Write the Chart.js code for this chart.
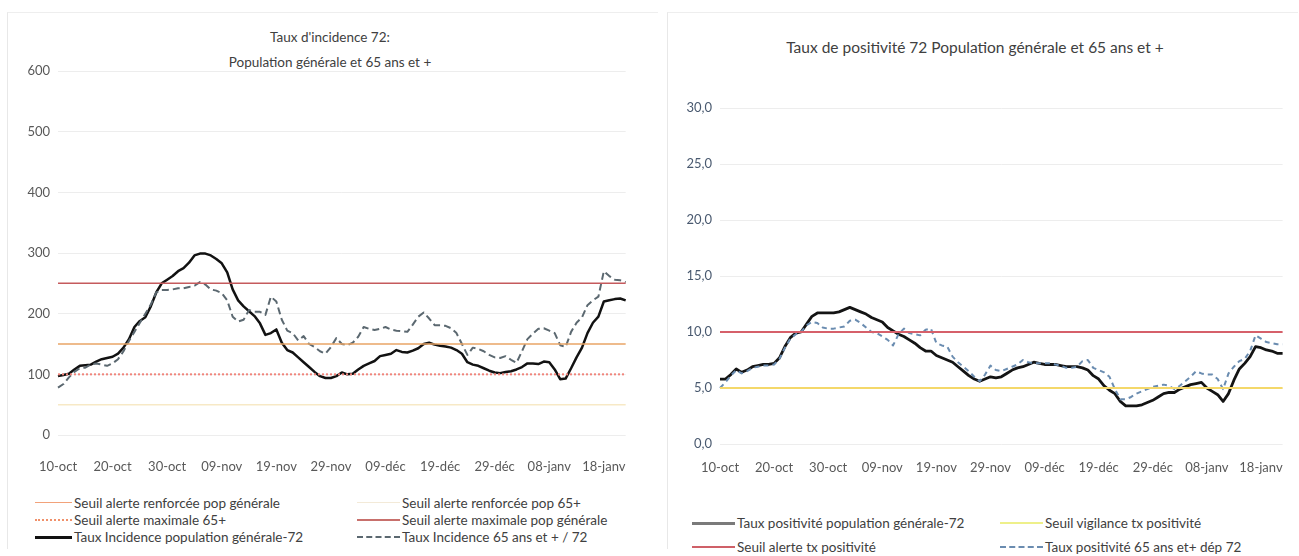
<!DOCTYPE html>
<html lang="fr">
<head>
<meta charset="UTF-8">
<title>Taux d'incidence et taux de positivité 72</title>
<script src="https://cdn.jsdelivr.net/npm/chart.js"></script>
<style>
  body { margin: 0; width: 1299px; height: 556px; background: #fff; position: relative; overflow: hidden;
         font-family: Lato, "Open Sans", sans-serif; color: #404040; }
  .panel { position: absolute; top: 12px; height: 536px; border-left: 1px solid #e8e8e8; border-top: 1px solid #eeeeee; }
  .title { position: absolute; text-align: center; color: #404040; }
  canvas { position: absolute; top: 0; }
  .item { position: absolute; white-space: nowrap; font-size: 13.5px; line-height: 14px; color: #404040; }
  .swatch { position: absolute; top: 7px; height: 0; }
</style>
</head>
<body>
  <div class="panel" style="left:7px; width:650px;"></div>
  <div class="panel" style="left:667px; width:630px;"></div>

  <div class="title" style="left:0; width:660px; top:25px; font-size:13.5px; line-height:25px;">
    Taux d'incidence 72:<br>Population générale et 65 ans et +
  </div>
  <div class="title" style="left:660px; width:630px; top:37px; font-size:15.5px; line-height:20px;">
    Taux de positivité 72 Population générale et 65 ans et +
  </div>

  <canvas id="incidence" width="650" height="485" style="left:0;"></canvas>
  <canvas id="positivite" width="639" height="485" style="left:660px;"></canvas>

  <div id="legends"></div>

  <script>
    // jours affichés (10-oct -> 22-janv)
    const dates = [
      '10-oct','11-oct','12-oct','13-oct','14-oct','15-oct','16-oct','17-oct','18-oct','19-oct',
      '20-oct','21-oct','22-oct','23-oct','24-oct','25-oct','26-oct','27-oct','28-oct','29-oct',
      '30-oct','31-oct','01-nov','02-nov','03-nov','04-nov','05-nov','06-nov','07-nov','08-nov',
      '09-nov','10-nov','11-nov','12-nov','13-nov','14-nov','15-nov','16-nov','17-nov','18-nov',
      '19-nov','20-nov','21-nov','22-nov','23-nov','24-nov','25-nov','26-nov','27-nov','28-nov',
      '29-nov','30-nov','01-déc','02-déc','03-déc','04-déc','05-déc','06-déc','07-déc','08-déc',
      '09-déc','10-déc','11-déc','12-déc','13-déc','14-déc','15-déc','16-déc','17-déc','18-déc',
      '19-déc','20-déc','21-déc','22-déc','23-déc','24-déc','25-déc','26-déc','27-déc','28-déc',
      '29-déc','30-déc','31-déc','01-janv','02-janv','03-janv','04-janv','05-janv','06-janv','07-janv',
      '08-janv','09-janv','10-janv','11-janv','12-janv','13-janv','14-janv','15-janv','16-janv','17-janv',
      '18-janv','19-janv','20-janv','21-janv','22-janv'
    ];
    const tickLabels = ['10-oct','20-oct','30-oct','09-nov','19-nov','29-nov','09-déc','19-déc','29-déc','08-janv','18-janv'];

    // taux d'incidence
    const incidencePop = [
      97,99,101,108,114,115,116,121,125,127,
      129,134,144,158,178,188,194,212,235,250,
      256,262,270,275,284,296,299,299,296,290,
      283,268,240,222,212,204,196,184,165,168,
      174,152,140,136,128,120,112,104,97,94,
      94,97,103,100,101,108,114,118,122,130,
      132,134,140,137,136,139,143,150,152,149,
      147,146,144,140,134,120,116,114,110,106,
      103,102,104,105,108,112,118,118,117,121,
      120,108,92,93,110,128,144,168,185,195,
      220,222,224,225,222
    ];
    const incidence65 = [
      78,84,95,104,110,111,116,118,116,114,
      118,125,138,155,170,185,200,215,235,239,
      239,240,242,242,244,246,252,248,240,238,
      234,222,195,187,190,206,203,203,198,228,
      220,190,172,168,156,163,150,145,138,134,
      145,160,150,148,152,162,178,175,173,175,
      178,174,172,171,170,182,195,202,192,181,
      181,180,176,168,150,132,144,142,138,132,
      128,127,130,124,119,138,158,167,175,176,
      172,168,148,145,170,185,194,214,222,228,
      270,262,256,255,252
    ];
    const incidenceTicks = [0, 100, 200, 300, 400, 500, 600];
    // seuils : renforcée pop générale, renforcée 65+, maximale 65+, maximale pop générale
    const seuilsIncidence = [150, 50, 100, 250];

    // taux de positivité
    const positivitePop = [
      5.8,5.8,6.2,6.7,6.4,6.6,6.9,7.0,7.1,7.1,
      7.2,7.7,8.7,9.5,9.9,10.0,10.7,11.4,11.7,11.7,
      11.7,11.7,11.8,12.0,12.2,12.0,11.8,11.6,11.3,11.1,
      10.9,10.4,10.1,9.8,9.6,9.3,9.0,8.6,8.3,8.3,
      7.9,7.7,7.5,7.3,6.9,6.5,6.1,5.8,5.6,5.8,
      6.0,5.9,6.0,6.3,6.6,6.8,6.9,7.1,7.3,7.2,
      7.1,7.1,7.1,7.0,6.9,6.9,6.9,6.8,6.6,6.1,
      5.8,5.2,4.8,4.5,3.8,3.4,3.4,3.4,3.5,3.7,
      3.9,4.2,4.5,4.6,4.6,4.9,5.1,5.3,5.4,5.5,
      5.0,4.7,4.4,3.8,4.5,5.7,6.7,7.2,7.8,8.7,
      8.6,8.4,8.3,8.1,8.1
    ];
    const positivite65 = [
      5.0,5.5,6.1,6.6,6.3,6.5,6.8,6.9,7.0,7.0,
      7.1,7.6,8.6,9.4,9.8,10.0,10.6,10.9,10.8,10.4,
      10.3,10.3,10.4,10.5,11.0,11.1,10.8,10.4,10.0,9.9,
      9.6,9.3,8.8,9.8,10.3,9.9,9.8,9.7,10.2,10.3,
      9.0,8.8,8.7,7.8,7.3,6.9,6.5,6.0,5.6,6.2,
      7.0,6.6,6.5,6.7,6.9,7.1,7.5,7.3,7.2,7.2,
      7.2,7.2,7.1,7.0,6.8,6.8,6.9,7.4,7.5,6.8,
      6.6,6.4,6.0,4.9,4.0,4.0,4.2,4.5,4.7,4.9,
      5.1,5.2,5.3,5.2,4.9,5.2,5.6,6.0,6.5,6.3,
      6.2,6.2,5.8,4.9,6.3,6.9,7.4,7.6,8.3,9.7,
      9.4,9.1,9.0,8.9,8.9
    ];
    const positiviteTicks = [0, 5, 10, 15, 20, 25, 30];
    // seuils : vigilance, alerte
    const seuilsPositivite = [5, 10];

    const FONT = 'Lato, "Open Sans", sans-serif';

    function seuil(value, color, width, dash) {
      return {
        data: [{ x: dates[0], y: value }, { x: dates[dates.length - 1], y: value }],
        borderColor: color, borderWidth: width, borderDash: dash || [],
        pointRadius: 0, fill: false
      };
    }
    function serie(values, color, width, dash) {
      return {
        data: values, borderColor: color, borderWidth: width, borderDash: dash || [],
        pointRadius: 0, tension: 0, fill: false, borderJoinStyle: 'round'
      };
    }

    function options(yTicks, yColor, fmt, pad, xPad, xHeight) {
      return {
        responsive: false,
        animation: false,
        layout: { padding: pad },
        plugins: { legend: { display: false }, tooltip: { enabled: false } },
        scales: {
          x: {
            type: 'category',
            offset: false,
            grid: { display: false, drawTicks: false },
            border: { display: false },
            afterFit: s => { s.height = xHeight; },
            ticks: {
              autoSkip: false, maxRotation: 0, padding: xPad,
              color: '#595959', font: { family: FONT, size: 13 },
              callback: function (v, i) {
                const l = dates[i];
                return tickLabels.includes(l) ? l : null;
              }
            }
          },
          y: {
            min: yTicks[0], max: yTicks[yTicks.length - 1],
            afterBuildTicks: s => { s.ticks = yTicks.map(v => ({ value: v })); },
            afterFit: s => { s.width = 40; },
            grid: { color: '#ededed', lineWidth: 1, drawTicks: false },
            border: { display: false },
            ticks: { padding: 8, color: yColor, font: { family: FONT, size: 13 }, callback: fmt }
          }
        }
      };
    }

    new Chart(document.getElementById('incidence'), {
      type: 'line',
      data: {
        labels: dates,
        datasets: [
          seuil(seuilsIncidence[1], '#f7e9c6', 1.5),
          seuil(seuilsIncidence[0], '#e9a566', 1.5),
          seuil(seuilsIncidence[2], '#f0857c', 2, [2, 2]),
          seuil(seuilsIncidence[3], '#c55a5d', 1.5),
          serie(incidence65, '#5b6870', 2, [7, 4]),
          serie(incidencePop, '#121212', 2.5)
        ]
      },
      options: options(incidenceTicks, '#595959', v => String(v),
        { left: 18, right: 13, top: 71, bottom: 5 }, 24, 45)
    });

    new Chart(document.getElementById('positivite'), {
      type: 'line',
      data: {
        labels: dates,
        datasets: [
          seuil(seuilsPositivite[0], '#f4d86a', 2),
          seuil(seuilsPositivite[1], '#d6606a', 1.8),
          serie(positivite65, '#6a8cb0', 2, [5, 4]),
          serie(positivitePop, '#141414', 2.8)
        ]
      },
      options: options(positiviteTicks, '#4a5a70', v => v.toFixed(1).replace('.', ','),
        { left: 20, right: 10, top: 108, bottom: 1 }, 16, 40)
    });

    // légendes (deux colonnes, comme l'original)
    const legendItems = [
      { x: 35, y: 496, w: 37, text: 'Seuil alerte renforcée pop générale', line: '1.5px solid #f2a27a' },
      { x: 357, y: 496, w: 43, text: 'Seuil alerte renforcée pop 65+', line: '1.5px solid #f3ead8' },
      { x: 35, y: 513, w: 37, text: 'Seuil alerte maximale 65+', line: '2px dotted #f0906a' },
      { x: 357, y: 513, w: 43, text: 'Seuil alerte maximale pop générale', line: '2px solid #c8706c' },
      { x: 35, y: 530, w: 37, text: 'Taux Incidence population générale-72', line: '3px solid #111' },
      { x: 357, y: 530, w: 43, text: 'Taux Incidence 65 ans et + / 72', line: '2px dashed #5b6870' },
      { x: 692, y: 516, w: 43, text: 'Taux positivité population générale-72', line: '3px solid #7a7a7a' },
      { x: 1000, y: 516, w: 43, text: 'Seuil vigilance tx positivité', line: '2px solid #eef08a' },
      { x: 692, y: 540, w: 43, text: 'Seuil alerte tx positivité', line: '2px solid #cf6068' },
      { x: 1000, y: 540, w: 43, text: 'Taux positivité 65 ans et+ dép 72', line: '2px dashed #6a8cb0' }
    ];
    const box = document.getElementById('legends');
    legendItems.forEach(it => {
      const d = document.createElement('div');
      d.className = 'item';
      d.style.left = it.x + 'px';
      d.style.top = it.y + 'px';
      d.style.paddingLeft = (it.w + 2) + 'px';
      d.innerHTML = `<span class="swatch" style="left:0;width:${it.w}px;border-top:${it.line};margin-top:-1px"></span>${it.text}`;
      box.appendChild(d);
    });
  </script>
</body>
</html>
